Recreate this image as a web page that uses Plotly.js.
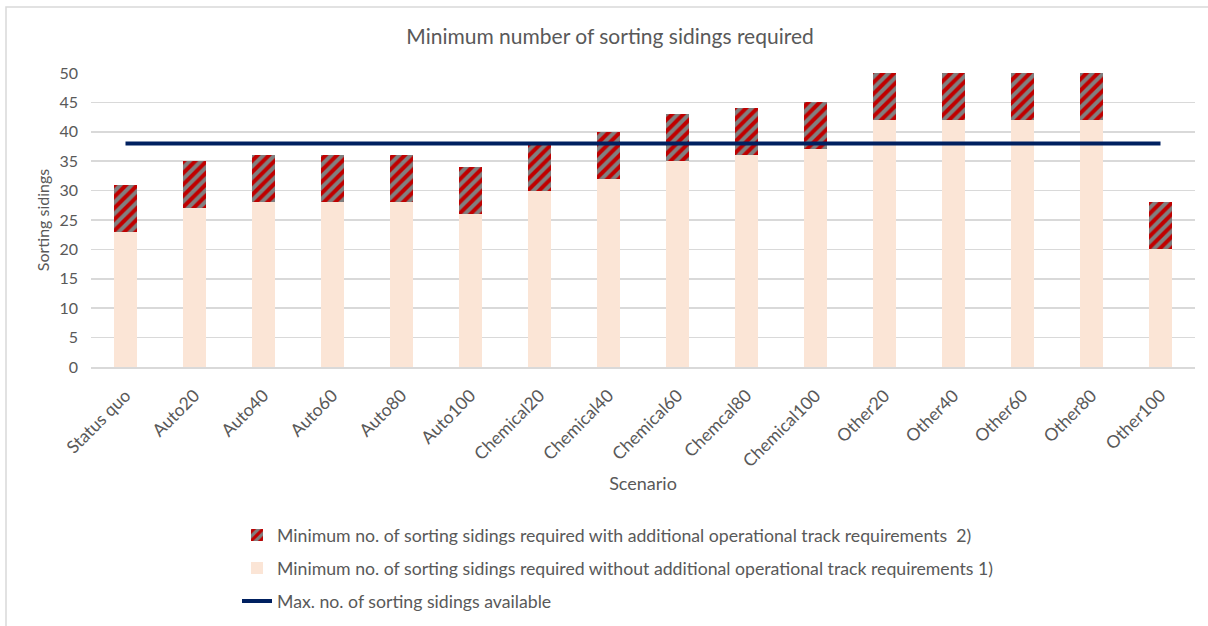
<!DOCTYPE html>
<html>
<head>
<meta charset="utf-8">
<script src="https://cdn.plot.ly/plotly-3.0.1.min.js"></script>
<style>html,body{margin:0;padding:0;background:#fff;overflow:hidden;} #chart{width:1208px;height:626px;}</style>
</head>
<body>
<div id="chart"></div>
<script>
const scenarios = ["Status quo","Auto20","Auto40","Auto60","Auto80","Auto100","Chemical20","Chemical40","Chemical60","Chemcal80","Chemical100","Other20","Other40","Other60","Other80","Other100"];
const withoutExtra = [23,27,28,28,28,26,30,32,35,36,37,42,42,42,42,20];
const additional = [8,8,8,8,8,8,8,8,8,8,8,8,8,8,8,8];
const maxAvailable = [38,38,38,38,38,38,38,38,38,38,38,38,38,38,38,38];

const textColor = '#595959';
const fontFam = 'Lato, "Open Sans", sans-serif';

const W = 1208, H = 626;
const L = 91, R = 13, T = 73, B = 259;
const PW = W - L - R, PH = H - T - B;

const traces = [
  {
    type: 'bar', x: scenarios, y: withoutExtra, width: 0.32,
    name: 'Minimum no. of sorting sidings required without additional operational track requirements 1)',
    marker: {color: '#FBE5D6', line: {width: 0}},
    legendgroup: 'b', legendrank: 2
  },
  {
    type: 'bar', x: scenarios, y: additional, width: 0.32,
    name: 'Minimum no. of sorting sidings required with additional operational track requirements\u00a0 2)',
    marker: {color: '#C00000', line: {width: 0},
      pattern: {shape: '/', bgcolor: '#808080', fgcolor: '#C00000', size: 8, solidity: 0.5}},
    legendgroup: 'a', legendrank: 1
  },
  {
    type: 'scatter', mode: 'lines', x: scenarios, y: maxAvailable,
    name: 'Max. no. of sorting sidings available',
    line: {color: '#002060', width: 4},
    legendgroup: 'c', legendrank: 3
  }
];

const layout = {
  width: W, height: H,
  margin: {l: L, r: R, t: T, b: B},
  paper_bgcolor: '#ffffff', plot_bgcolor: '#ffffff',
  font: {family: fontFam, color: textColor, size: 16},
  title: {text: 'Minimum number of sorting sidings required', font: {size: 21, color: textColor, family: fontFam},
    x: 0.505, xanchor: 'center', y: 1 - 37 / H, yanchor: 'middle', yref: 'container'},
  barmode: 'stack',
  showlegend: true,
  legend: {
    orientation: 'v', xref: 'paper', yref: 'container',
    x: (237 - L) / PW, xanchor: 'left', y: 1 - 517 / H, yanchor: 'top',
    traceorder: 'grouped', tracegroupgap: 7,
    font: {size: 17.7, color: textColor, family: fontFam},
    bgcolor: 'rgba(0,0,0,0)'
  },
  xaxis: {
    type: 'category', tickangle: -45, tickfont: {size: 17.5, color: textColor},
    showgrid: false, showline: true, linecolor: '#d9d9d9', linewidth: 1.5, ticks: '',
    ticklabelstandoff: 10,
    title: {text: 'Scenario', font: {size: 18, color: textColor}, standoff: 7},
    automargin: false
  },
  yaxis: {
    range: [0, 50], dtick: 5, tickfont: {size: 16, color: textColor},
    showgrid: true, gridcolor: '#d9d9d9', gridwidth: 1.5, zeroline: false,
    showline: false, ticks: '', ticklabelstandoff: 12,
    title: {text: 'Sorting sidings', font: {size: 16, color: textColor}, standoff: 5},
    automargin: false
  },
  shapes: [
    {type: 'rect', xref: 'paper', yref: 'paper',
     x0: (6 - L) / PW, x1: (1240 - L) / PW,
     y0: (T + PH - 660) / PH, y1: (T + PH - 7) / PH,
     line: {color: '#d9d9d9', width: 1.5}, fillcolor: 'rgba(0,0,0,0)', layer: 'below'}
  ]
};

Plotly.newPlot('chart', traces, layout, {displayModeBar: false, staticPlot: true});
</script>
</body>
</html>
